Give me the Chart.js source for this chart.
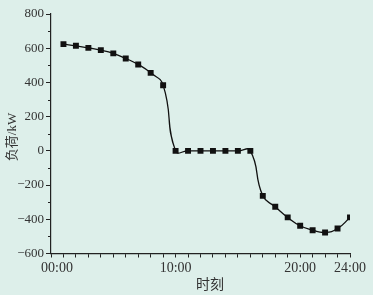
<!DOCTYPE html>
<html>
<head>
<meta charset="utf-8">
<script src="https://cdn.jsdelivr.net/npm/chart.js@4.4.1/dist/chart.umd.min.js"></script>
<style>
  html, body { margin: 0; padding: 0; background: #ddefea; }
  #wrap { width: 373px; height: 295px; }
</style>
</head>
<body>
<div id="wrap"><canvas id="loadChart"></canvas></div>
<script>
// hourly load
const hours = [1, 2, 3, 4, 5, 6, 7, 8, 9, 10, 11, 12, 13, 14, 15, 16, 17, 18, 19, 20, 21, 22, 23, 24];
const load = [624, 614, 602, 589, 570, 540, 505, 456, 384, 0, 0, 0, 0, 0, 0, 0, -263, -327, -389, -438, -464, -477, -454, -389];

// x axis labels
const xLabelHours = [0, 10, 20, 24];
const xLabelText = ["00:00", "10:00", "20:00", "24:00"];

const axisColor = "#222";
const textColor = "#333";
const serif = "'Liberation Serif', 'Noto Sans CJK SC', serif";

const decor = {
    id: "decor",
    afterDraw(chart) {
        const ctx = chart.ctx;
        const xs = chart.scales.x;
        const ys = chart.scales.y;
        const area = chart.chartArea;
        ctx.save();

        // minor y ticks
        ctx.strokeStyle = axisColor;
        ctx.lineWidth = 1;
        for (let v = -500; v < 800; v += 200) {
            const y = Math.round(ys.getPixelForValue(v)) + 0.5;
            ctx.beginPath();
            ctx.moveTo(area.left - 3, y);
            ctx.lineTo(area.left, y);
            ctx.stroke();
        }

        // x labels (00:00 is pushed off the axis corner like in the original)
        ctx.fillStyle = textColor;
        ctx.font = "14px " + serif;
        ctx.textAlign = "center";
        ctx.textBaseline = "middle";
        xLabelHours.forEach((h, i) => {
            let x = xs.getPixelForValue(h);
            if (h === 0) x += 6;
            ctx.fillText(xLabelText[i], x, area.bottom + 15);
        });

        // axis titles
        ctx.font = "14px " + serif;
        ctx.fillText("时刻", 210, 285);

        ctx.translate(13, 137);
        ctx.rotate(-Math.PI / 2);
        ctx.font = "13px " + serif;
        ctx.fillText("负荷/kW", 0, 0);
        ctx.restore();
    }
};

const ctx = document.getElementById("loadChart").getContext("2d");
new Chart(ctx, {
    type: "line",
    data: {
        datasets: [{
            data: hours.map((h, i) => ({ x: h, y: load[i] })),
            borderColor: "#111",
            borderWidth: 1.3,
            backgroundColor: "#111",
            pointStyle: "rect",
            pointRadius: 4.2,
            pointBorderWidth: 0,
            tension: 0.5,
            fill: false
        }]
    },
    options: {
        responsive: true,
        maintainAspectRatio: false,
        animation: false,
        layout: { padding: { top: 14, right: 23, left: 0, bottom: 0 } },
        plugins: {
            legend: { display: false },
            tooltip: { enabled: false }
        },
        scales: {
            x: {
                type: "linear",
                min: 0,
                max: 24,
                ticks: { stepSize: 1, display: false },
                grid: { drawOnChartArea: false, drawTicks: true, tickLength: 4, color: axisColor },
                border: { display: true, color: axisColor, width: 1.2 },
                afterFit(scale) { scale.height = 41.5; }
            },
            y: {
                min: -600,
                max: 800,
                ticks: {
                    stepSize: 200,
                    color: textColor,
                    padding: 2,
                    font: { family: serif, size: 13 },
                    callback: v => String(v).replace("-", "\u2212")
                },
                grid: { drawOnChartArea: false, drawTicks: true, tickLength: 5, color: axisColor },
                border: { display: true, color: axisColor, width: 1.2 },
                afterFit(scale) { scale.width = 51; }
            }
        }
    },
    plugins: [decor]
});
</script>
</body>
</html>
